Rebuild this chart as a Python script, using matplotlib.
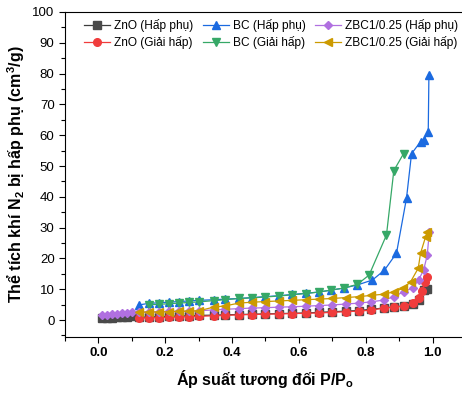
import matplotlib
matplotlib.use("Agg")
import matplotlib.pyplot as plt
from matplotlib.ticker import MultipleLocator

plt.rcParams['font.family'] = ['Liberation Sans', 'DejaVu Sans']
plt.rcParams['mathtext.fontset'] = 'custom'
plt.rcParams['mathtext.rm'] = 'Liberation Sans:bold'
plt.rcParams['mathtext.bf'] = 'Liberation Sans:bold'
plt.rcParams['mathtext.default'] = 'bf'

# ---- data ----
x_low = [0.01, 0.025, 0.04, 0.055, 0.07, 0.085, 0.10]
x_mid = [0.12, 0.15, 0.18, 0.21, 0.24, 0.27, 0.30, 0.345, 0.38, 0.42, 0.46,
         0.50, 0.54, 0.58, 0.62, 0.66, 0.70, 0.74, 0.78, 0.815, 0.855, 0.884,
         0.914, 0.94, 0.958, 0.973, 0.984]

zno_ads_x = x_low + x_mid
zno_ads_y = [0.6, 0.7, 0.8, 0.9, 1.0, 1.1, 1.2,
             0.9, 1.0, 1.1, 1.2, 1.3, 1.4, 1.5, 1.6, 1.7, 1.8, 1.9,
             2.0, 2.1, 2.2, 2.3, 2.5, 2.7, 2.9, 3.1, 3.5, 3.9, 4.3,
             4.6, 5.2, 6.5, 9.7, 10.2]

zno_des_x = [0.12, 0.15, 0.18, 0.21, 0.24, 0.27, 0.30, 0.345, 0.38, 0.42, 0.46,
             0.50, 0.54, 0.58, 0.62, 0.66, 0.70, 0.74, 0.78, 0.815, 0.855, 0.884,
             0.914, 0.94, 0.958, 0.969, 0.976, 0.984]
zno_des_y = [0.6, 0.7, 0.8, 0.9, 1.0, 1.1, 1.2, 1.4, 1.5, 1.7, 1.8,
             1.9, 2.0, 2.1, 2.2, 2.3, 2.5, 2.7, 2.9, 3.2, 3.9, 4.2,
             4.5, 5.5, 7.0, 9.5, 12.4, 14.0]

bc_ads_x = [0.12, 0.15, 0.18, 0.21, 0.24, 0.27, 0.30, 0.345, 0.38, 0.42, 0.46,
            0.50, 0.54, 0.58, 0.62, 0.66, 0.695, 0.735, 0.775, 0.82, 0.856, 0.892,
            0.922, 0.937, 0.964, 0.973, 0.987, 0.989]
bc_ads_y = [4.9, 5.4, 5.6, 5.8, 6.0, 6.2, 6.4, 6.6, 6.8, 7.0, 7.3,
            7.6, 7.9, 8.3, 8.7, 9.1, 9.7, 10.4, 11.4, 13.0, 16.2, 21.7,
            39.6, 54.0, 57.9, 58.4, 61.0, 79.5]

bc_des_x = [0.913, 0.884, 0.862, 0.81, 0.775, 0.735, 0.695, 0.66,
            0.62, 0.58, 0.54, 0.50, 0.46, 0.42, 0.38, 0.345, 0.30, 0.27,
            0.24, 0.21, 0.18, 0.15]
bc_des_y = [54.0, 48.5, 27.6, 14.6, 11.6, 10.4, 9.7, 9.1,
            8.6, 8.2, 7.8, 7.5, 7.2, 7.0, 6.6, 6.3, 5.9, 5.7,
            5.5, 5.3, 5.1, 5.0]

zbc_ads_x = x_low + x_mid + [0.99]
zbc_ads_y = [1.6, 1.8, 1.9, 2.1, 2.2, 2.4, 2.6,
             2.6, 2.7, 2.7, 2.8, 2.9, 2.9, 3.0, 3.3, 3.5, 3.7, 3.9,
             4.0, 4.2, 4.3, 4.5, 4.7, 4.9, 5.2, 5.5, 5.9, 6.5, 7.6,
             9.2, 10.4, 13.0, 16.2, 21.0, 28.5]

zbc_des_x = [0.984, 0.979, 0.964, 0.957, 0.934, 0.912, 0.884, 0.855, 0.815,
             0.78, 0.74, 0.70, 0.66, 0.62, 0.58, 0.54, 0.50, 0.46, 0.42,
             0.38, 0.345, 0.30, 0.27, 0.24, 0.21, 0.18, 0.15, 0.12]
zbc_des_y = [28.7, 27.0, 21.7, 16.8, 12.4, 10.3, 9.2, 8.4, 8.0,
             7.6, 7.3, 7.0, 6.8, 6.6, 6.4, 6.2, 6.0, 5.8, 5.5,
             4.6, 4.2, 3.0, 2.9, 2.8, 2.7, 2.6, 2.6, 2.5]

labels = ["ZnO (Hấp phụ)", "ZnO (Giải hấp)", "BC (Hấp phụ)", "BC (Giải hấp)",
          "ZBC1/0.25 (Hấp phụ)", "ZBC1/0.25 (Giải hấp)"]

series = [
    (zno_ads_x, zno_ads_y, '#3c3c3c', '#4a4a4a', 's'),
    (zno_des_x, zno_des_y, '#f03c3c', '#f03c3c', 'o'),
    (bc_ads_x, bc_ads_y, '#1b6ae0', '#1b6ae0', '^'),
    (bc_des_x, bc_des_y, '#36a867', '#36a867', 'v'),
    (zbc_ads_x, zbc_ads_y, '#b070e0', '#b070e0', 'D'),
    (zbc_des_x, zbc_des_y, '#cc9a00', '#cc9a00', '<'),
]

fig = plt.figure(figsize=(4.62, 3.94), dpi=100)
ax = fig.add_axes([65/462, 1-337/394, 401/462, 325/394])

for (xs, ys, lc, mc, m), lab in zip(series, labels):
    ms = 5.5 if m != 'D' else 4.5
    ax.plot(xs, ys, color=lc, lw=0.9, marker=m, ms=ms, mfc=mc, mec=mc,
            label=lab)

ax.set_xlim(-0.1, 1.1)
ax.set_ylim(-5.5, 100)
ax.xaxis.set_major_locator(MultipleLocator(0.2))
ax.xaxis.set_minor_locator(MultipleLocator(0.1))
ax.yaxis.set_major_locator(MultipleLocator(10))
ax.yaxis.set_minor_locator(MultipleLocator(5))
ax.tick_params(which='major', direction='out', length=4, width=0.8, labelsize=9.5)
ax.tick_params(which='minor', direction='out', length=3, width=0.8)
ax.set_xticks([0.0, 0.2, 0.4, 0.6, 0.8, 1.0])
ax.set_xticklabels(['0.0', '0.2', '0.4', '0.6', '0.8', '1.0'], fontweight='bold')
ax.spines['right'].set_visible(False)

ax.set_xlabel("Áp suất tương đối P/P$_o$", fontsize=11.5, fontweight='bold', labelpad=6)
ax.set_ylabel("Thể tích khí N$_2$ bị hấp phụ (cm$^3$/g)", fontsize=11.5,
              fontweight='bold', labelpad=4)

ax.legend(ncol=3, loc='upper left', bbox_to_anchor=(0.03, 1.0), frameon=False,
          fontsize=8.6, handlelength=2.2, handletextpad=0.3, columnspacing=0.8,
          labelspacing=0.35, borderaxespad=0.2)

fig.savefig("out.png", dpi=100)
